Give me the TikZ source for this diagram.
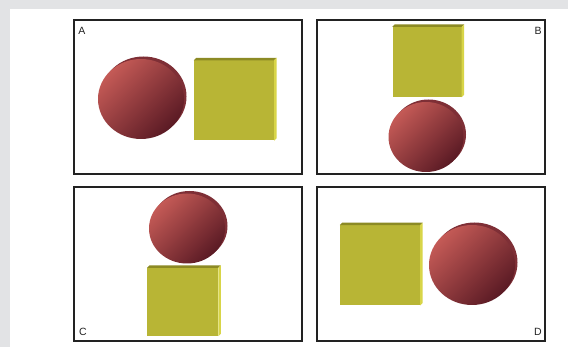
\documentclass[tikz,border=0pt]{standalone}
\usepackage{fontspec}
\setsansfont{Liberation Sans}
\usetikzlibrary{shapes.geometric, positioning}
\definecolor{bgGray}{HTML}{E2E3E5}
\definecolor{frameInk}{HTML}{222222}
\definecolor{discLight}{HTML}{C45A56}
\definecolor{discDark}{HTML}{5A1A24}
\definecolor{discRim}{HTML}{7E2F36}
\definecolor{slabFace}{HTML}{B8B535}
\definecolor{slabTop}{HTML}{8C8A24}
\definecolor{slabSide}{HTML}{D8D548}

\begin{document}
\begin{tikzpicture}[x=1pt, y=-1pt,
      every node/.style={font=\sffamily\fontsize{10.5}{12}\selectfont, text=frameInk},
      panel/.style={draw=frameInk, line width=2pt, fill=white, minimum width=228pt, minimum height=154pt, inner sep=0pt},
      disc/.style={ellipse, inner sep=0pt, top color=discLight, bottom color=discDark, shading angle=45},
      rim/.style={ellipse, inner sep=0pt, fill=discRim},
      slab/.style={rectangle, inner sep=0pt, fill=slabFace},
      tag/.style={inner sep=0pt}
    ]
    \useasboundingbox (0,0) rectangle (568,347);
    % --- background ---
    \fill[bgGray] (0,0) rectangle (568,347);
    \fill[white] (10,9) rectangle (568,347);

    % --- four panels ---
    \node[panel] (pA) at (188,97) {};
    \node[panel] (pB) at (431,97) {};
    \node[panel] (pC) at (188,264) {};
    \node[panel] (pD) at (431,264) {};

    \node[tag] (tA) at (82,31) {A};
    \node[tag] (tB) at (538,31) {B};
    \node[tag] (tC) at (83,332) {C};
    \node[tag] (tD) at (538,332) {D};

    % --- discs: rim behind, shaded face in front ---
    \node[rim, minimum width=86pt, minimum height=80pt] at (143.5,96.5) {};
    \node[disc, minimum width=86pt, minimum height=80pt] (dA) at (141,99) {};
    \node[rim, minimum width=75pt, minimum height=70pt] at (428.5,134.5) {};
    \node[disc, minimum width=75pt, minimum height=70pt] (dB) at (426,137) {};
    \node[rim, minimum width=76pt, minimum height=70pt] at (189.5,226) {};
    \node[disc, minimum width=76pt, minimum height=70pt] (dC) at (187,228.5) {};
    \node[rim, minimum width=86pt, minimum height=80pt] at (474.5,262.5) {};
    \node[disc, minimum width=86pt, minimum height=80pt] (dD) at (472,265) {};

    % --- slabs: face with top and side strips ---
    \node[slab, minimum width=80pt, minimum height=80pt] (sA) at (234,100.5) {};
    \node[slab, minimum width=69pt, minimum height=70pt] (sB) at (427,62) {};
    \node[slab, minimum width=71pt, minimum height=68pt] (sC) at (182.7,302) {};
    \node[slab, minimum width=80pt, minimum height=80pt] (sD) at (380,265.3) {};
    \foreach \s in {sA,sB,sC,sD}{
      \fill[slabTop] (\s.north west) -- ([shift={(2.5pt,2.5pt)}]\s.north west)
        -- ([shift={(2.5pt,2.5pt)}]\s.north east) -- (\s.north east) -- cycle;
      \fill[slabSide] (\s.north east) -- ([shift={(2.5pt,2.5pt)}]\s.north east)
        -- ([shift={(2.5pt,2.5pt)}]\s.south east) -- (\s.south east) -- cycle;
    }
  \end{tikzpicture}
\end{document}
